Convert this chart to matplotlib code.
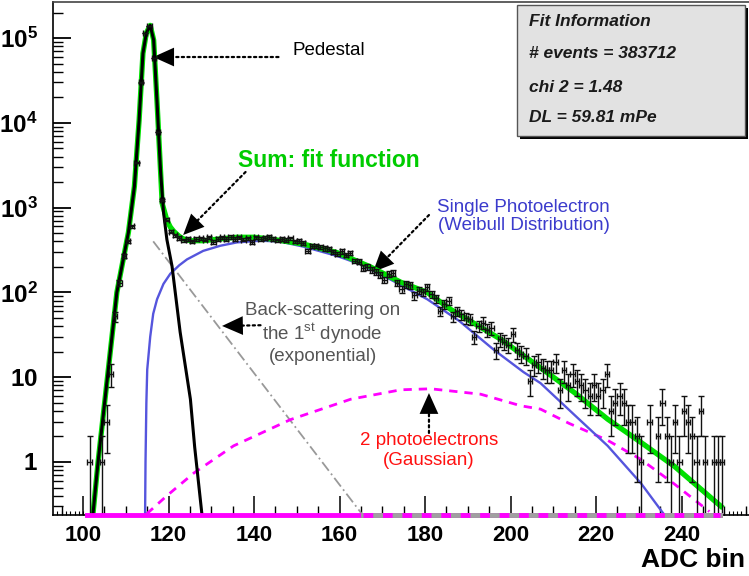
#!/usr/bin/env python
"""PMT single photoelectron spectrum with fit components."""

# Standard library modules.

# Third party modules.
import matplotlib
matplotlib.use("Agg")
import matplotlib.pyplot as plt
import numpy as np
from matplotlib import font_manager
from matplotlib.patches import Rectangle
from matplotlib.ticker import FixedLocator, MultipleLocator, LogLocator, NullFormatter, FixedFormatter

# Globals and constants variables.
_names = set(f.name for f in font_manager.fontManager.ttflist)
FONT = "Liberation Sans" if "Liberation Sans" in _names else "DejaVu Sans"
NARROW = "Liberation Sans Narrow" if "Liberation Sans Narrow" in _names else FONT

X_MIN, X_MAX = 92.96, 258.8
Y_MIN, Y_MAX = 0.237, 2.66e5

# histogram, bins of 1 ADC, first bin centre 101.5
binStart = 101.5
counts = [1, 0, 0, 1, 3, 11, 52, 130, 270, 400,
          600, 3400, 30000, 115000, 140000, 58000, 7800, 1230, 720, 520,
          470, 440, 410, 430, 400, 425, 435, 420, 445, 390,
          430, 445, 425, 448, 430, 447, 420, 435, 390, 445,
          430, 440, 448, 425, 410, 425, 415, 435, 400, 405,
          380, 310, 355, 350, 345, 330, 325, 300, 285, 305,
          275, 290, 235, 230, 195, 200, 185, 175, 160, 140,
          165, 170, 130, 110, 125, 122, 92, 105, 100, 115,
          95, 85, 60, 72, 80, 52, 60, 55, 50, 48,
          30, 40, 44, 36, 38, 21, 28, 26, 24, 32,
          21, 19, 18, 9, 14, 15, 13, 12, 12, 15,
          7, 12, 8, 11, 9, 8, 7, 6, 8, 6,
          7, 11, 4, 5, 6, 5, 3, 3, 2, 1,
          0, 3, 0, 2, 5, 2, 1, 3, 1, 4,
          3, 2, 1, 4, 1, 0, 1, 1, 1]

# fit curves
sumADC = [102.3, 103.5, 105.7, 107.9, 110.6, 112.0, 113.1, 114.0, 114.8, 115.7,
          116.5, 117.3, 118.1, 118.5, 119.6, 120.4, 121.2, 122.5, 123.5, 125.1,
          128.1, 132.0, 136.0, 140.0, 143.8, 151.5, 159.4, 167.2, 174.3, 180.5,
          186.0, 197.7, 207.0, 214.9, 222.7, 230.5, 238.3, 249.2]
sumCounts = [0.24, 1, 10, 100, 510, 1780, 10700, 66000, 115000, 141000,
             95000, 17400, 2800, 1120, 710, 590, 525, 457, 427, 407,
             407, 427, 447, 447, 427, 372, 295, 200, 132, 100,
             63, 28, 12.9, 6.6, 3.2, 1.7, 0.89, 0.30]

pedestalADC = [102.3, 103.5, 105.7, 107.9, 110.6, 112.0, 113.1, 114.0, 114.8, 115.7,
               116.5, 117.3, 118.1, 118.8, 119.6, 120.8, 122.7, 125.1, 126.1, 127.8]
pedestalCounts = [0.24, 1, 10, 100, 510, 1780, 10700, 66000, 115000, 141000,
                  95000, 17400, 2800, 890, 420, 204, 34, 5.5, 1.5, 0.24]

weibullADC = [114.5, 114.6, 114.8, 115.0, 115.7, 116.4, 117.3, 118.8, 120.4, 122.5,
              124.3, 128.1, 132.1, 136.0, 141.5, 146.0, 151.5, 159.4, 164.9, 172.0,
              180.5, 188.0, 196.1, 203.0, 207.0, 214.9, 222.7, 230.5, 235.9]
weibullCounts = [0.24, 1.0, 5.0, 12.3, 30, 56, 83, 126, 166, 209,
                 245, 309, 355, 389, 407, 398, 347, 269, 214, 141,
                 83, 46, 21, 11.5, 8.5, 3.6, 1.55, 0.56, 0.24]

backADC = [116.4, 165.4]
backCounts = [400, 0.237]

twoPeADC = [114.9, 119.6, 125.9, 135.2, 148.5, 162.6, 174.3, 181.3, 193.0, 202.4,
            207.0, 213.7, 222.7, 230.5, 238.3, 246.5]
twoPeCounts = [0.245, 0.40, 0.74, 1.55, 3.16, 5.5, 7.1, 7.3, 6.3, 4.6,
               4.2, 2.85, 1.8, 1.07, 0.55, 0.26]

# pieces of the components that fall under the frame and sit on the floor
magentaFloorADC = [101.0, 249.0]
grayFloorADC = [165.4, 249.0]

yTicks = [1, 10, 100, 1e3, 1e4, 1e5]
# the 1-ADC tertiary ticks only show where no curve lies on the floor
tinyTicks = list(range(94, 101)) + list(range(250, 259))

fitInfo = ["Fit Information", "# events = 383712", "chi 2 = 1.48", "DL = 59.81 mPe"]


def arrow(ax, tail, tip):
    ax.annotate("", xy=tip, xytext=tail,
                arrowprops=dict(arrowstyle="-", linestyle=(0, (1, 1.5)), lw=1.6,
                                color="black", shrinkA=0, shrinkB=6))
    ax.annotate("", xy=tip, xytext=tail,
                arrowprops=dict(arrowstyle="-|>,head_length=1.0,head_width=0.45", lw=0,
                                color="black", shrinkA=0, shrinkB=0,
                                mutation_scale=15))


def doGraphics():
    plt.rcParams["font.family"] = [FONT, "DejaVu Sans"]
    plt.rcParams["mathtext.fontset"] = "custom"
    plt.rcParams["mathtext.rm"] = FONT
    plt.rcParams["mathtext.bf"] = NARROW + ":bold"

    fig = plt.figure(figsize=(7.49, 5.76), dpi=100)
    fig.patch.set_facecolor("white")
    ax = fig.add_axes([53 / 749, 61 / 576, (762 - 53) / 749, 513 / 576])

    adc = binStart + np.arange(len(counts))
    n = np.array(counts, dtype=float)
    keep = n > 0
    err = np.sqrt(n[keep])

    # fit components
    ax.plot(backADC, backCounts, color="#999999", lw=1.3, ls=(0, (6, 2, 1, 2)), zorder=3)
    ax.plot(twoPeADC, twoPeCounts, color="#ff00ff", lw=2.0, ls=(0, (3, 2.5)), zorder=3)
    ax.plot(weibullADC, weibullCounts, color="#5555dd", lw=1.7, zorder=3)
    ax.plot(sumADC, sumCounts, color="#00e000", lw=3.8, zorder=4)
    ax.plot(pedestalADC, pedestalCounts, color="black", lw=2.2, zorder=5)

    # data
    ax.errorbar(adc[keep], n[keep], xerr=0.5,
                yerr=[np.minimum(err, n[keep] * 0.999999), err],
                fmt="none", ecolor="#111111", elinewidth=1.0, capsize=2.0, capthick=1.0,
                zorder=6)

    ax.set_yscale("log")
    ax.set_xlim(X_MIN, X_MAX)
    ax.set_ylim(Y_MIN, Y_MAX)

    ax.xaxis.set_major_locator(MultipleLocator(20))
    ax.xaxis.set_minor_locator(MultipleLocator(5))
    ax.yaxis.set_major_locator(FixedLocator(yTicks))
    ax.yaxis.set_major_formatter(FixedFormatter([r"$\mathbf{1}$", r"$\mathbf{10}$",
                                                 r"$\mathbf{10^{2}}$", r"$\mathbf{10^{3}}$",
                                                 r"$\mathbf{10^{4}}$", r"$\mathbf{10^{5}}$"]))
    ax.yaxis.set_minor_locator(LogLocator(base=10, subs=np.arange(2, 10), numticks=20))
    ax.yaxis.set_minor_formatter(NullFormatter())

    ax.tick_params(axis="both", which="both", direction="in", colors="black")
    ax.tick_params(axis="x", which="major", length=14, width=1.1, pad=7)
    ax.tick_params(axis="x", which="minor", length=6.5, width=1.0)
    ax.tick_params(axis="y", which="major", length=13, width=1.3, pad=11)
    ax.tick_params(axis="y", which="minor", length=7, width=1.0)
    ax.tick_params(right=False, top=False)
    for lab in ax.get_xticklabels():
        lab.set_fontfamily(NARROW)
        lab.set_fontweight("bold")
        lab.set_fontsize(16)
    for lab in ax.get_yticklabels():
        lab.set_fontsize(17.5)

    sec = ax.secondary_xaxis("bottom")
    sec.xaxis.set_major_locator(FixedLocator(tinyTicks))
    sec.tick_params(direction="in", length=3, width=0.8, labelbottom=False)
    sec.spines["bottom"].set_visible(False)

    ax.plot(magentaFloorADC, [Y_MIN, Y_MIN], color="#ff00ff", lw=3.5, clip_on=False, zorder=7)
    ax.plot(grayFloorADC, [Y_MIN, Y_MIN], color="#a0a0a0", lw=3.5, clip_on=False, zorder=7.1)
    ax.plot(grayFloorADC, [Y_MIN, Y_MIN], color="#ff00ff", lw=3.5, ls=(0, (2, 2)),
            clip_on=False, zorder=7.2)

    for side in ["left", "top", "bottom"]:
        ax.spines[side].set_linewidth(1.2)
    ax.spines["top"].set_color("#444444")
    ax.spines["right"].set_visible(False)

    # annotations
    ax.text(149.0, 72000, "Pedestal", fontsize=13.5, color="black", ha="left", va="center")
    arrow(ax, (145.7, 59700), (116.4, 59700))

    ax.text(157.5, 3640, "Sum: fit function", fontsize=16.5, fontweight="bold",
            color="#00cc00", ha="center", va="center")
    arrow(ax, (138.0, 2630), (123.4, 475))

    ax.text(203.0, 785, "Single Photoelectron\n(Weibull Distribution)", fontsize=13.5,
            color="#3b3bcc", ha="center", va="center", linespacing=1.15)
    arrow(ax, (180.9, 817), (167.8, 174))

    ax.text(156.0, 32.4, "Back-scattering on\nthe 1$^{\\mathrm{st}}$ dynode\n(exponential)",
            fontsize=13.5, color="#555555", ha="center", va="center", linespacing=1.15)
    arrow(ax, (141.5, 41), (132.5, 40.2))

    ax.text(180.9, 1.37, "2 photoelectrons\n(Gaussian)", fontsize=13.5, color="#ff1010",
            ha="center", va="center", linespacing=1.25)
    arrow(ax, (180.9, 2.2), (180.9, 6.5))

    # fit information box
    shadow = Rectangle((520 / 749, 1 - 139 / 576), 228 / 749, 131 / 576,
                       transform=fig.transFigure, facecolor="black", edgecolor="none", zorder=10)
    box = Rectangle((517 / 749, 1 - 136 / 576), 228 / 749, 131 / 576,
                    transform=fig.transFigure, facecolor="#e2e2e2", edgecolor="#555555",
                    lw=1.0, zorder=11)
    fig.patches.extend([shadow, box])
    for line, yPx in zip(fitInfo, [22, 53, 87, 118]):
        fig.text(529 / 749, 1 - yPx / 576, line, fontsize=12.5, style="italic",
                 fontweight="bold", color="#1a1a1a", ha="left", va="center", zorder=12)

    fig.text(745 / 749, 1 - 567 / 576, "ADC bin", fontsize=19, fontweight="bold",
             family=NARROW, ha="right", va="baseline")

    fig.savefig("out.png", dpi=100, facecolor="white")


def run():
    doGraphics()


if __name__ == "__main__":
    run()
